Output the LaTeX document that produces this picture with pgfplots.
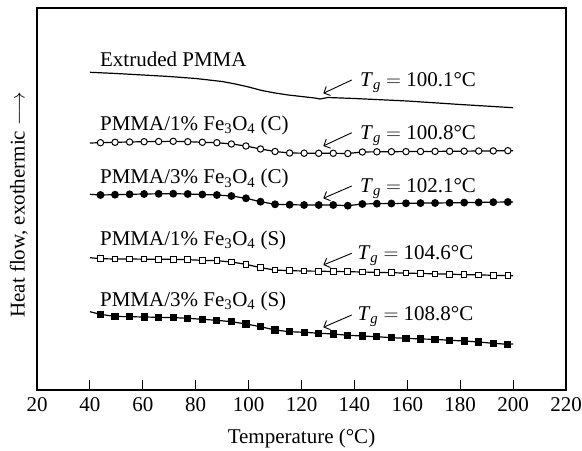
\documentclass[border=0pt]{standalone}
\usepackage{fontspec}
\setmainfont{Liberation Serif}
\usepackage{pgfplots}
\pgfplotsset{compat=1.18}
\usetikzlibrary{arrows.meta}
\newcommand{\Tg}{\textit{T}\textsubscript{\textit{g}}}
\begin{document}
\fontsize{21bp}{25bp}\selectfont
\begin{tikzpicture}
\begin{axis}[
  scale only axis, width=529bp, height=382bp,
  xmin=20, xmax=220, ymin=-390, ymax=-8,
  xtick={20,40,...,220}, ytick=\empty,
  xtick pos=bottom, tick align=inside,
  major tick length=10bp,
  axis line style={line width=1.1bp},
  tick style={line width=1bp, black},
  xlabel={Temperature (°C)},
  ylabel={Heat flow, exothermic $\longrightarrow$},
  xlabel style={yshift=-3bp},
  ylabel style={yshift=2bp, xshift=-6bp},
  /pgf/number format/assume math mode=true,
  clip=false,
  every axis plot/.append style={black, line width=1.2bp},
]
% Extruded PMMA
\addplot[no marks] coordinates {(40,-72.3) (50,-73.5) (60,-75) (70,-76.5) (80,-78.5) (90,-81.5) (95,-84) (100,-87) (105,-90.5) (110,-93) (115,-95) (120,-96.5) (125,-98) (127,-99) (130,-97.5) (140,-98.5) (160,-101) (180,-104.5) (200,-107.7)};
% PMMA/1% (C), open circles
\addplot[mark=*, mark size=3.2bp, mark options={fill=white, line width=1bp}, mark indices={2,...,30}] coordinates {
(40,-143) (44,-142.7) (49.5,-142.3) (55,-142) (60.5,-141.7) (66,-141.5) (71.5,-141.3) (77,-141.7) (82.5,-142.3) (88,-142.7) (93.5,-144) (99,-146) (104.5,-149) (110,-151.5) (115.5,-153) (121,-153.2) (126.5,-153.3) (132,-153.3) (137.5,-153.5) (143,-152) (148.5,-151.8) (154,-151.7) (159.5,-151.6) (165,-151.5) (170.5,-151.4) (176,-151.3) (181.5,-151.2) (187,-151) (192.5,-150.9) (198,-150.7) (200,-150.7)};
% PMMA/3% (C), filled circles
\addplot[mark=*, mark size=3.3bp, mark options={fill=black}, mark indices={2,...,30}] coordinates {
(40,-194.3) (44,-195) (49.5,-194.7) (55,-194.3) (60.5,-194) (66,-193.8) (71.5,-193.7) (77,-194) (82.5,-194.5) (88,-195) (93.5,-196) (99,-198.3) (104.5,-201.7) (110,-204.3) (115.5,-204.7) (121,-205) (126.5,-205) (132,-205) (137.5,-205.7) (143,-204) (148.5,-203.7) (154,-203.5) (159.5,-203.3) (165,-203.1) (170.5,-203) (176,-202.8) (181.5,-202.6) (187,-202.4) (192.5,-202.2) (198,-202) (200,-202)};
% PMMA/1% (S), open squares
\addplot[mark=square*, mark size=2.8bp, mark options={fill=white, line width=1bp}, mark indices={2,...,30}] coordinates {
(40,-257.7) (44,-258.7) (49.5,-259) (55,-259) (60.5,-259.2) (66,-259.3) (71.5,-259.3) (77,-259.7) (82.5,-260.3) (88,-260.7) (93.5,-262) (99,-264.3) (104.5,-267.7) (110,-270) (115.5,-270.7) (121,-271) (126.5,-271.2) (132,-271.5) (137.5,-271.7) (143,-272) (148.5,-272.4) (154,-272.7) (159.5,-273.1) (165,-273.5) (170.5,-273.8) (176,-274.2) (181.5,-274.6) (187,-274.9) (192.5,-275.3) (198,-275.7) (200,-275.8)};
% PMMA/3% (S), filled squares
\addplot[mark=square*, mark size=3bp, mark options={fill=black}, mark indices={2,...,30}] coordinates {
(40,-311.7) (44,-314.3) (49.5,-316.5) (55,-316.7) (60.5,-317) (66,-317.3) (71.5,-317.6) (77,-318.3) (82.5,-319.3) (88,-320.3) (93.5,-321.7) (99,-324) (104.5,-326.7) (110,-330) (115.5,-331.7) (121,-332.3) (126.5,-333.2) (132,-334) (137.5,-335.3) (143,-336) (148.5,-336.7) (154,-337.7) (159.5,-338.3) (165,-339) (170.5,-339.3) (176,-340.3) (181.5,-341) (187,-342) (192.5,-343.3) (198,-344.3) (200,-344)};

% series labels
\node[anchor=base west, inner sep=0pt] at (axis cs:43.8,-67) {Extruded PMMA};
\node[anchor=base west, inner sep=0pt] at (axis cs:43.8,-130.7) {PMMA/1\% Fe\textsubscript{3}O\textsubscript{4} (C)};
\node[anchor=base west, inner sep=0pt] at (axis cs:43.8,-184) {PMMA/3\% Fe\textsubscript{3}O\textsubscript{4} (C)};
\node[anchor=base west, inner sep=0pt] at (axis cs:43.8,-245.7) {PMMA/1\% Fe\textsubscript{3}O\textsubscript{4} (S)};
\node[anchor=base west, inner sep=0pt] at (axis cs:43.8,-306.7) {PMMA/3\% Fe\textsubscript{3}O\textsubscript{4} (S)};

% Tg annotations
\node[anchor=base west, inner sep=0pt] at (axis cs:142.1,-86.5) {\Tg{} $=$ 100.1°C};
\node[anchor=base west, inner sep=0pt] at (axis cs:142.1,-139.5) {\Tg{} $=$ 100.8°C};
\node[anchor=base west, inner sep=0pt] at (axis cs:142.1,-192.5) {\Tg{} $=$ 102.1°C};
\node[anchor=base west, inner sep=0pt] at (axis cs:141.1,-259) {\Tg{} $=$ 104.6°C};
\node[anchor=base west, inner sep=0pt] at (axis cs:141.1,-320.7) {\Tg{} $=$ 108.8°C};

\draw[line width=0.9bp, -{Straight Barb[length=5bp,width=10bp]}] (axis cs:139,-80) -- (axis cs:128.25,-93.3);
\draw[line width=0.9bp, -{Straight Barb[length=5bp,width=10bp]}] (axis cs:139,-132.7) -- (axis cs:128.25,-146);
\draw[line width=0.9bp, -{Straight Barb[length=5bp,width=10bp]}] (axis cs:139,-186) -- (axis cs:128.25,-198.3);
\draw[line width=0.9bp, -{Straight Barb[length=5bp,width=10bp]}] (axis cs:139,-253.3) -- (axis cs:128.25,-265);
\draw[line width=0.9bp, -{Straight Barb[length=5bp,width=10bp]}] (axis cs:139,-315) -- (axis cs:128.25,-327.3);
\end{axis}
\pgfresetboundingbox
\path ([shift={(-37bp,-61bp)}]current axis.south west) rectangle ([shift={(16bp,8bp)}]current axis.north east);
\end{tikzpicture}
\end{document}
